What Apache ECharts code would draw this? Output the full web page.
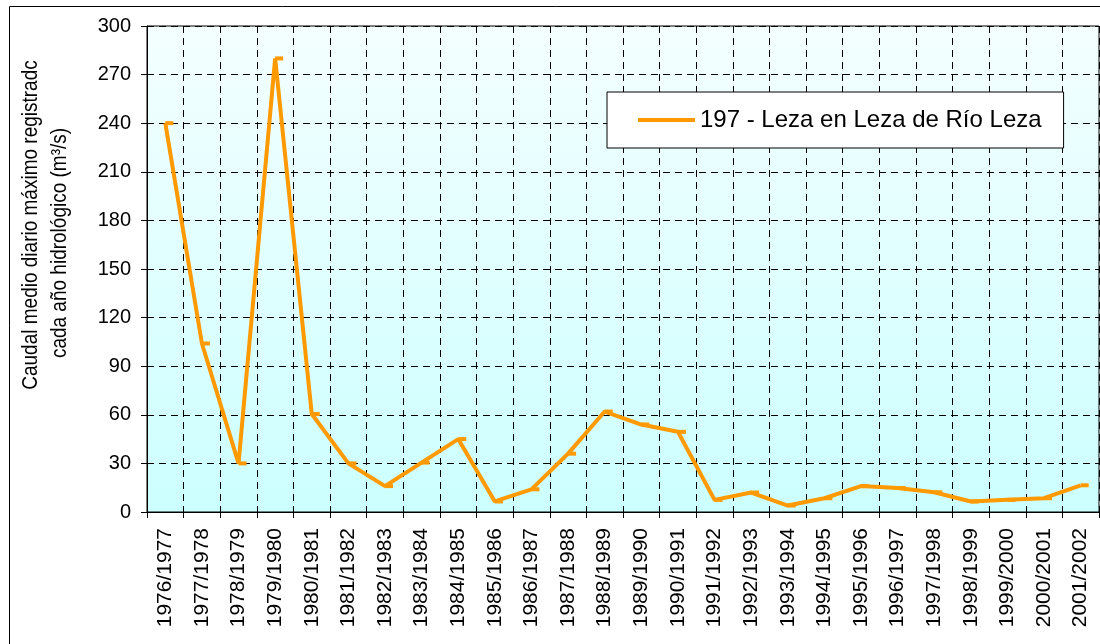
<!DOCTYPE html>
<html>
<head>
<meta charset="utf-8">
<title>Caudal medio diario máximo - 197 Leza en Leza de Río Leza</title>
<script src="https://cdn.jsdelivr.net/npm/echarts@6/dist/echarts.min.js"></script>
<style>
  html, body { margin: 0; padding: 0; background: #ffffff; }
  #chart { width: 1100px; height: 644px; }
</style>
</head>
<body>
<div id="chart"></div>
<script>
// Hydrological years (October–September)
const years = [
  '1976/1977', '1977/1978', '1978/1979', '1979/1980', '1980/1981', '1981/1982',
  '1982/1983', '1983/1984', '1984/1985', '1985/1986', '1986/1987', '1987/1988',
  '1988/1989', '1989/1990', '1990/1991', '1991/1992', '1992/1993', '1993/1994',
  '1994/1995', '1995/1996', '1996/1997', '1997/1998', '1998/1999', '1999/2000',
  '2000/2001', '2001/2002'
];

// Maximum mean daily discharge recorded in each hydrological year (m³/s)
const maxDailyFlow = [
  240, 104, 30, 280, 60.5, 30,
  16, 30.5, 45, 6.5, 14, 36,
  62, 54, 49.5, 7.5, 12, 4,
  8.5, 16, 14.8, 12.2, 6.5, 7.5,
  8.5, 16.5
];

const seriesName = '197 - Leza en Leza de Río Leza';
const yTicks = { min: 0, max: 300, step: 30 };
const yTitleLines = ['Caudal medio diario máximo registradc', 'cada año hidrológico (m³/s)'];

const FONT = '"Liberation Sans", Arial, sans-serif';
const ORANGE = '#FF9900';

const chart = echarts.init(document.getElementById('chart'), null, { renderer: 'canvas' });

chart.setOption({
  animation: false,
  backgroundColor: '#ffffff',
  textStyle: { fontFamily: FONT, color: '#000' },
  grid: {
    left: 147, top: 26, right: 1, bottom: 132,
    show: true,
    borderColor: '#000', borderWidth: 1,
    backgroundColor: new echarts.graphic.LinearGradient(0, 0, 0, 1, [
      { offset: 0, color: '#F4FFFF' },
      { offset: 1, color: '#CCFFFF' }
    ])
  },
  legend: {
    left: 607, top: 92,
    padding: [15, 22, 15, 29],
    backgroundColor: '#ffffff',
    borderColor: '#000', borderWidth: 1, borderRadius: 0,
    itemWidth: 57, itemHeight: 5, itemGap: 0,
    lineStyle: { width: 4, color: ORANGE },
    itemStyle: { color: ORANGE },
    textStyle: { fontFamily: FONT, fontSize: 24, color: '#000', lineHeight: 26 },
    data: [{ name: seriesName }]
  },
  xAxis: {
    type: 'category',
    data: years,
    boundaryGap: true,
    axisLine: { lineStyle: { color: '#000', width: 1 } },
    axisTick: { show: true, inside: false, length: 6, alignWithLabel: false, lineStyle: { color: '#000' } },
    axisLabel: { rotate: 90, interval: 0, margin: 16, fontFamily: FONT, fontSize: 21, color: '#000' },
    splitLine: { show: true, interval: 0, lineStyle: { color: '#000', type: [7, 5], width: 1 } }
  },
  yAxis: {
    type: 'value',
    min: yTicks.min, max: yTicks.max, interval: yTicks.step,
    axisLine: { show: true, lineStyle: { color: '#000', width: 1 } },
    axisTick: { show: true, length: 6, lineStyle: { color: '#000' } },
    axisLabel: { margin: 16, fontFamily: FONT, fontSize: 20, color: '#000' },
    splitLine: { show: true, lineStyle: { color: '#000', type: [7, 5], width: 1 } }
  },
  series: [{
    name: seriesName,
    type: 'line',
    data: maxDailyFlow,
    symbol: 'rect',
    symbolSize: [8, 4],
    symbolOffset: [4, 0],
    showAllSymbol: true,
    lineStyle: { color: ORANGE, width: 4 },
    itemStyle: { color: ORANGE },
    emphasis: { disabled: true }
  }],
  graphic: [
    {
      type: 'rect',
      shape: { x: 9.5, y: 6.5, width: 1200, height: 800 },
      style: { fill: 'none', stroke: '#000', lineWidth: 1 },
      silent: true, z: -1
    },
    {
      type: 'text',
      x: 31, y: 225, rotation: Math.PI / 2, scaleY: 1.12,
      style: { text: yTitleLines[0], font: '19px ' + FONT, fill: '#000', textAlign: 'center', textVerticalAlign: 'middle' }
    },
    {
      type: 'text',
      x: 60, y: 243, rotation: Math.PI / 2, scaleY: 1.12,
      style: { text: yTitleLines[1], font: '19px ' + FONT, fill: '#000', textAlign: 'center', textVerticalAlign: 'middle' }
    }
  ]
});
</script>
</body>
</html>
